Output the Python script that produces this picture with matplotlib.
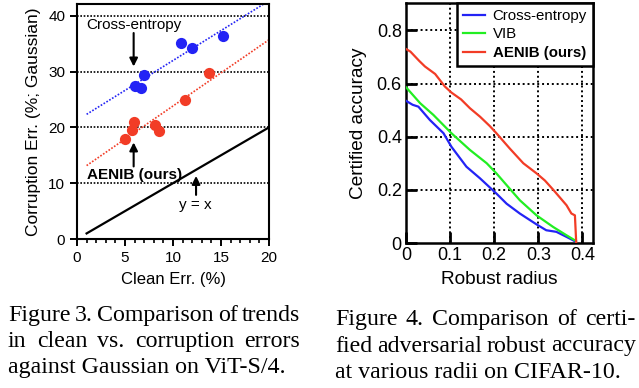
import numpy as np
import matplotlib
matplotlib.use('Agg')
import matplotlib.pyplot as plt

# Figure 3: clean vs corruption error (%)
ce_clean = [6.0, 6.7, 7.0, 10.8, 12.0, 15.2]
ce_corr = [27.4, 27.0, 29.3, 35.1, 34.3, 36.3]
aenib_clean = [5.0, 5.7, 5.9, 8.1, 8.5, 11.2, 13.7]
aenib_corr = [17.9, 19.5, 20.9, 20.4, 19.4, 24.9, 29.7]

# Figure 4: certified accuracy vs radius
ce_r = [0, 0.015, 0.028, 0.054, 0.085, 0.103, 0.137, 0.168, 0.205, 0.228, 0.258, 0.296, 0.318, 0.341, 0.364, 0.385]
ce_acc = [0.535, 0.52, 0.513, 0.463, 0.413, 0.362, 0.287, 0.243, 0.186, 0.148, 0.111, 0.07, 0.048, 0.042, 0.023, 0.005]
vib_r = [0, 0.032, 0.062, 0.103, 0.145, 0.183, 0.205, 0.228, 0.258, 0.296, 0.334, 0.364, 0.385]
vib_acc = [0.586, 0.526, 0.482, 0.413, 0.35, 0.30, 0.262, 0.218, 0.161, 0.104, 0.06, 0.029, 0.008]
ae_r = [0, 0.01, 0.03, 0.043, 0.066, 0.088, 0.103, 0.125, 0.145, 0.168, 0.19, 0.205, 0.235, 0.266, 0.296, 0.315, 0.334, 0.364, 0.375, 0.383, 0.386]
ae_acc = [0.73, 0.72, 0.685, 0.664, 0.636, 0.589, 0.566, 0.54, 0.507, 0.475, 0.44, 0.413, 0.356, 0.30, 0.262, 0.235, 0.2, 0.142, 0.111, 0.104, 0.0]

BLUE = '#2323f5'
GREEN = '#22ee22'
RED = '#f23c26'
SANS = 'Liberation Sans'
SERIF = 'Liberation Serif'

plt.rcParams['font.family'] = SANS
fig = plt.figure(figsize=(6.39, 3.88), dpi=100)

#--- left panel
ax1 = fig.add_axes([0.1205, 0.384, 0.3005, 0.6057])
ax1.set_xlim(0, 20)
ax1.set_ylim(0, 42.1)
for y in [10, 20, 30, 40]:
    ax1.axhline(y, color='k', ls=(0, (1, 1)), lw=1.2, zorder=1)
xx = np.array([1, 20])
p = np.polyfit(ce_clean, ce_corr, 1)
ax1.plot(xx, np.polyval(p, xx), color=BLUE, ls=(0, (1, 1)), lw=1.2, zorder=2)
p = np.polyfit(aenib_clean, aenib_corr, 1)
ax1.plot(xx, np.polyval(p, xx), color=RED, ls=(0, (1, 1)), lw=1.2, zorder=2)
ax1.plot(xx, xx, color='k', lw=1.6, zorder=2)
ax1.scatter(ce_clean, ce_corr, s=65, color=BLUE, zorder=3, lw=0)
ax1.scatter(aenib_clean, aenib_corr, s=65, color=RED, zorder=3, lw=0)
arr = dict(arrowstyle='-|>', color='k', lw=1.5, mutation_scale=12, shrinkA=0, shrinkB=0)
ax1.text(1.0, 38.4, 'Cross-entropy', fontsize=11, va='center', ha='left')
ax1.annotate('', xy=(5.9, 30.9), xytext=(5.9, 36.9), arrowprops=arr)
ax1.text(1.0, 11.5, 'AENIB (ours)', fontsize=11, fontweight='bold', va='center', ha='left')
ax1.annotate('', xy=(5.9, 17.3), xytext=(5.9, 13.0), arrowprops=arr)
ax1.text(12.3, 6.1, 'y = x', fontsize=11, va='center', ha='center')
ax1.annotate('', xy=(12.4, 11.3), xytext=(12.4, 7.9), arrowprops=arr)
ax1.set_xticks([0, 5, 10, 15, 20])
ax1.set_xticks(np.arange(0, 21, 1), minor=True)
ax1.set_yticks([0, 10, 20, 30, 40])
ax1.tick_params(which='major', direction='out', length=5, width=1.4, labelsize=11)
ax1.tick_params(which='minor', direction='out', length=3, width=1.2)
ax1.tick_params(axis='y', which='minor', left=False)
for s in ax1.spines.values():
    s.set_linewidth(1.5)
ax1.set_xlabel('Clean Err. (%)', fontsize=12, labelpad=5)
ax1.set_ylabel('Corruption Err. (%; Gaussian)', fontsize=12.5, labelpad=5)

#--- right panel
ax2 = fig.add_axes([0.6354, 0.3737, 0.2926, 0.6186])
ax2.set_xlim(0, 0.424)
ax2.set_ylim(0, 0.903)
for x in [0.1, 0.2, 0.3, 0.4]:
    ax2.axvline(x, color='k', ls=(0, (1, 1.5)), lw=1.4, zorder=1)
for y in [0.2, 0.4, 0.6, 0.8]:
    ax2.axhline(y, color='k', ls=(0, (1, 1.5)), lw=1.4, zorder=1)
ax2.plot(ce_r, ce_acc, color=BLUE, lw=1.6, label='Cross-entropy', zorder=3)
ax2.plot(vib_r, vib_acc, color=GREEN, lw=1.6, label='VIB', zorder=3)
ax2.plot(ae_r, ae_acc, color=RED, lw=1.6, label='AENIB (ours)', zorder=3)
ax2.set_xticks([0, 0.1, 0.2, 0.3, 0.4])
ax2.set_xticklabels(['0', '0.1', '0.2', '0.3', '0.4'])
ax2.set_yticks([0, 0.2, 0.4, 0.6, 0.8])
ax2.set_yticklabels(['0', '0.2', '0.4', '0.6', '0.8'])
ax2.tick_params(direction='in', length=8, width=2, labelsize=13, pad=3)
for s in ax2.spines.values():
    s.set_linewidth(1.8)
ax2.set_xlabel('Robust radius', fontsize=13.7, labelpad=5)
ax2.set_ylabel('Certified accuracy', fontsize=13.7, labelpad=7)
leg = ax2.legend(loc='upper right', fontsize=10.8, frameon=True, fancybox=False,
                 borderaxespad=0, handlelength=1.5, handletextpad=0.5,
                 labelspacing=0.3, borderpad=0.4, framealpha=1)
leg.get_frame().set_edgecolor('k')
leg.get_frame().set_linewidth(1.8)
leg.get_texts()[2].set_fontweight('bold')

#--- captions
renderer = fig.canvas.get_renderer()
W, H = fig.get_size_inches() * fig.dpi


def caption_line(line, x0, x1, y, justify, size=17.2):
    words = line.split(' ')
    if not justify:
        fig.text(x0 / W, 1 - y / H, line, fontsize=size, family=SERIF, va='baseline')
        return
    ts = [fig.text(0, 0, w, fontsize=size, family=SERIF, va='baseline') for w in words]
    widths = [t.get_window_extent(renderer).width for t in ts]
    gap = (x1 - x0 - sum(widths)) / (len(words) - 1)
    x = x0
    for t, w in zip(ts, widths):
        t.set_position((x / W, 1 - y / H))
        x += w + gap


caption_line('Figure 3. Comparison of trends', 8, 300, 321, True)
caption_line('in clean vs. corruption errors', 8, 300, 347, True)
caption_line('against Gaussian on ViT-S/4.', 8, 300, 373, False)
caption_line('Figure 4. Comparison of certi-', 335, 636, 325, True)
caption_line('fied adversarial robust accuracy', 335, 636, 351.5, True)
caption_line('at various radii on CIFAR-10.', 335, 636, 378, False)

fig.savefig('out.png', dpi=100)
